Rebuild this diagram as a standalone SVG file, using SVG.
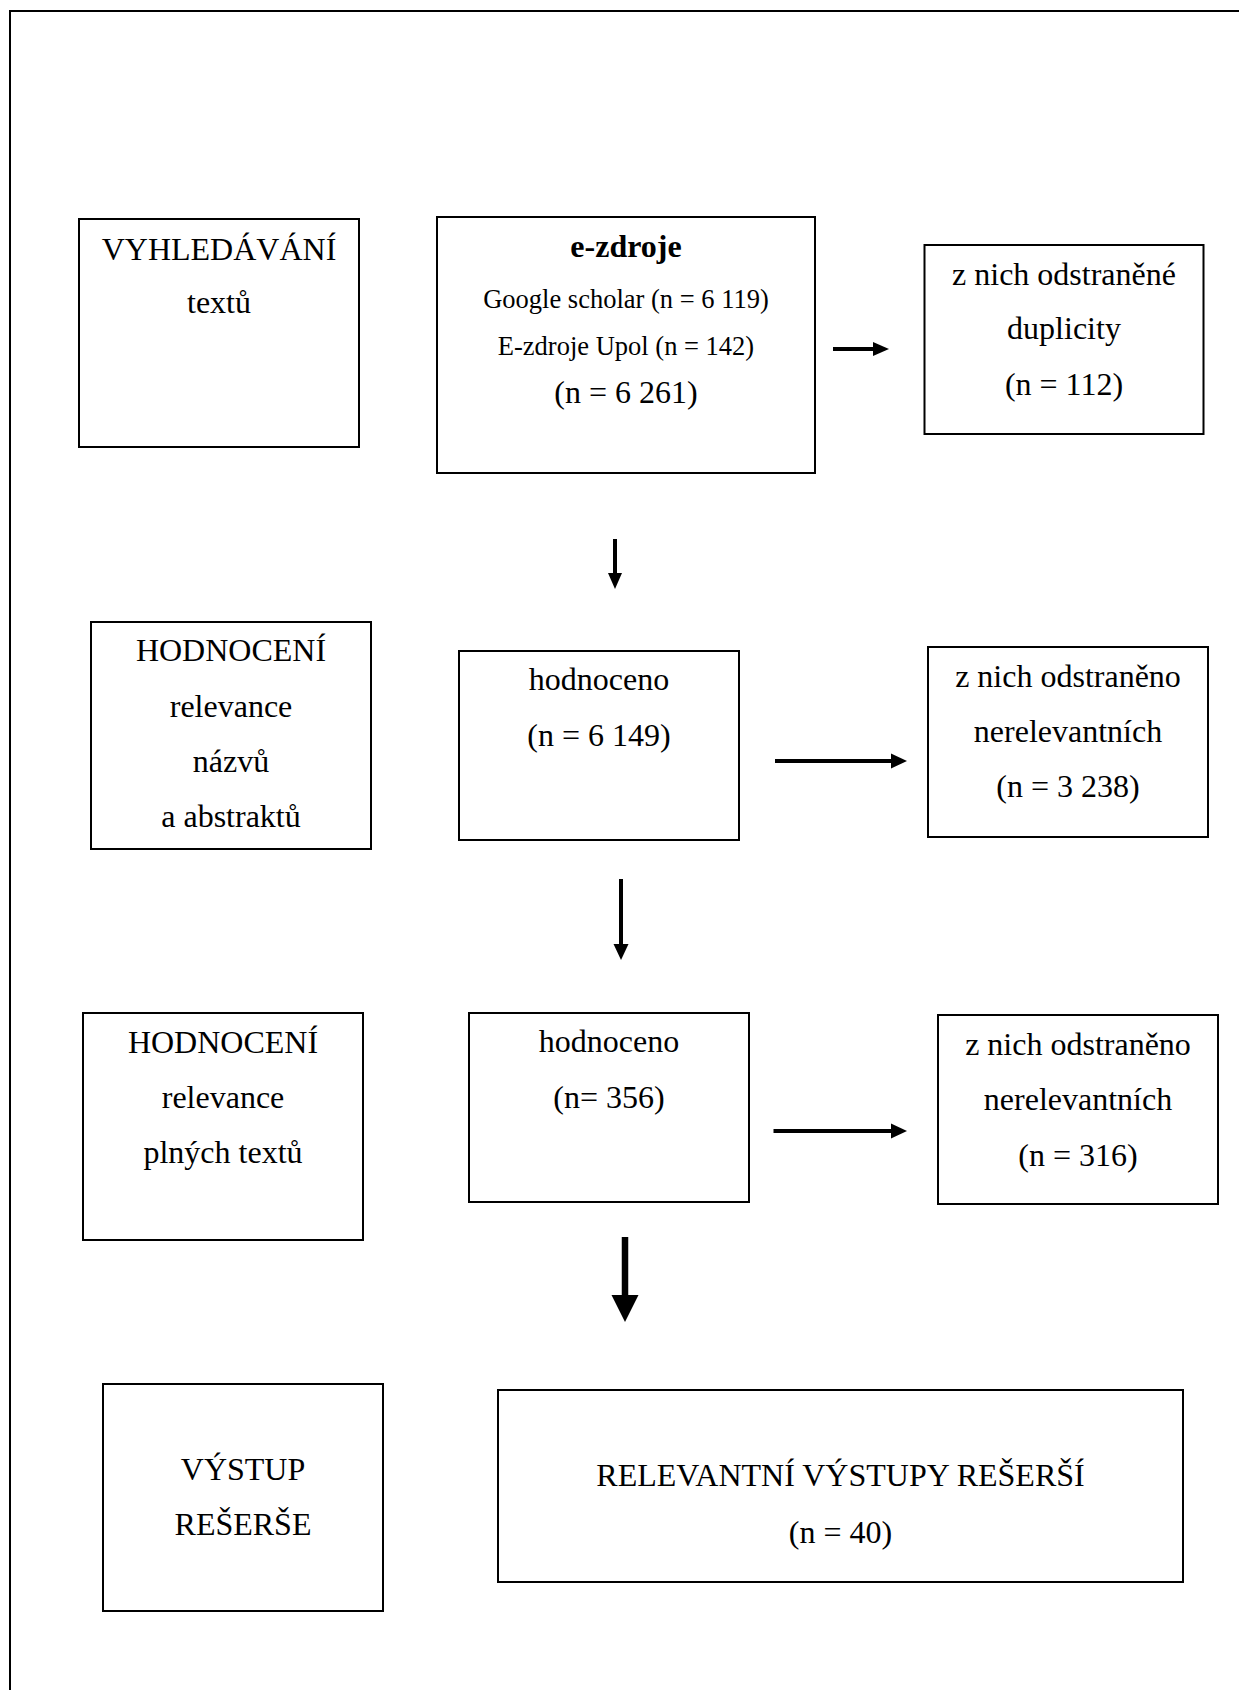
<svg xmlns="http://www.w3.org/2000/svg" width="1239" height="1690" viewBox="0 0 1239 1690">
<style>
.box{fill:#fff;stroke:#000;stroke-width:2}
.t{font-family:"Liberation Serif","Times New Roman",serif;font-size:32px;fill:#000;text-anchor:middle}
.s{font-size:26.5px}
.b{font-weight:bold}
.shaft{stroke:#000;fill:none}
.head{fill:#000}
</style>
<rect x="0" y="0" width="1239" height="1690" fill="#fff"/>
<path d="M10,1700 V11 H1250" fill="none" stroke="#000" stroke-width="2"/>
<g id="n1"><rect class="box" x="79" y="219" width="280" height="228"/>
<text class="t" x="219" y="260">VYHLEDÁVÁNÍ</text><text class="t" x="219" y="313">textů</text></g>
<g id="n2"><rect class="box" x="437" y="217" width="378" height="256"/>
<text class="t b" x="626" y="257">e-zdroje</text>
<text class="t s" x="626" y="308">Google scholar (n = 6 119)</text>
<text class="t s" x="626" y="355">E-zdroje Upol (n = 142)</text>
<text class="t" x="626" y="403">(n = 6 261)</text></g>
<g id="n3"><rect class="box" x="924.5" y="245" width="279" height="189"/>
<text class="t" x="1064" y="285">z nich odstraněné</text><text class="t" x="1064" y="339">duplicity</text><text class="t" x="1064" y="395">(n = 112)</text></g>
<g id="n4"><rect class="box" x="91" y="622" width="280" height="227"/>
<text class="t" x="231" y="661">HODNOCENÍ</text><text class="t" x="231" y="717">relevance</text><text class="t" x="231" y="772">názvů</text><text class="t" x="231" y="827">a abstraktů</text></g>
<g id="n5"><rect class="box" x="459" y="651" width="280" height="189"/>
<text class="t" x="599" y="690">hodnoceno</text><text class="t" x="599" y="746">(n = 6 149)</text></g>
<g id="n6"><rect class="box" x="928" y="647" width="280" height="190"/>
<text class="t" x="1068" y="687">z nich odstraněno</text><text class="t" x="1068" y="742">nerelevantních</text><text class="t" x="1068" y="797">(n = 3 238)</text></g>
<g id="n7"><rect class="box" x="83" y="1013" width="280" height="227"/>
<text class="t" x="223" y="1053">HODNOCENÍ</text><text class="t" x="223" y="1108">relevance</text><text class="t" x="223" y="1163">plných textů</text></g>
<g id="n8"><rect class="box" x="469" y="1013" width="280" height="189"/>
<text class="t" x="609" y="1052">hodnoceno</text><text class="t" x="609" y="1108">(n= 356)</text></g>
<g id="n9"><rect class="box" x="938" y="1015" width="280" height="189"/>
<text class="t" x="1078" y="1055">z nich odstraněno</text><text class="t" x="1078" y="1110">nerelevantních</text><text class="t" x="1078" y="1166">(n = 316)</text></g>
<g id="n10"><rect class="box" x="103" y="1384" width="280" height="227"/>
<text class="t" x="243" y="1480">VÝSTUP</text><text class="t" x="243" y="1535">REŠERŠE</text></g>
<g id="n11"><rect class="box" x="498" y="1390" width="685" height="192"/>
<text class="t" x="840.5" y="1486">RELEVANTNÍ VÝSTUPY REŠERŠÍ</text><text class="t" x="840.5" y="1543">(n = 40)</text></g>
<g id="connectors">
<line class="shaft" x1="833" y1="349" x2="875" y2="349" stroke-width="4"/><polygon class="head" points="873,342 889,349 873,356"/>
<line class="shaft" x1="615" y1="539" x2="615" y2="575" stroke-width="4"/><polygon class="head" points="608,573 622,573 615,589"/>
<line class="shaft" x1="775" y1="761" x2="893" y2="761" stroke-width="4"/><polygon class="head" points="891,753.5 907,761 891,768.5"/>
<line class="shaft" x1="621" y1="879" x2="621" y2="946" stroke-width="4"/><polygon class="head" points="613.5,944 628.5,944 621,960"/>
<line class="shaft" x1="773.5" y1="1131" x2="893" y2="1131" stroke-width="4"/><polygon class="head" points="891,1123.5 907,1131 891,1138.5"/>
<line class="shaft" x1="625" y1="1237" x2="625" y2="1297" stroke-width="6.5"/><polygon class="head" points="611.5,1295 638.5,1295 625,1322"/>
</g>
</svg>
